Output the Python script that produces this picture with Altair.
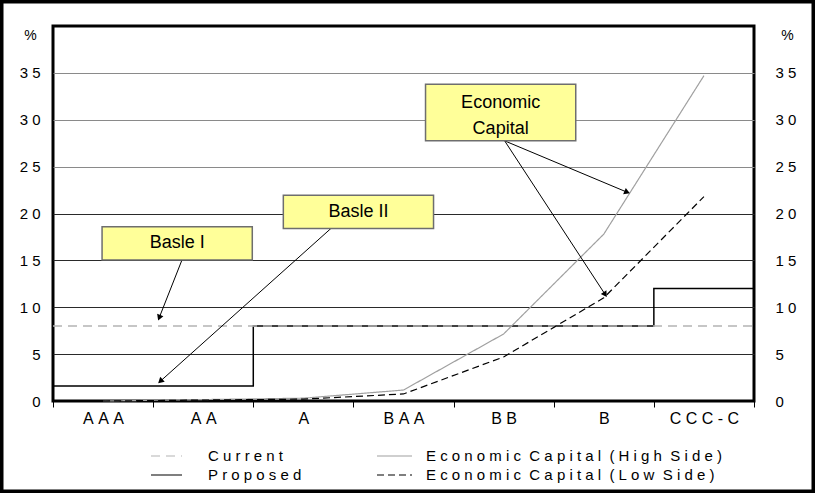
import json
import math

import altair as alt
import pandas as pd

# ---- chart values -------------------------------------------------------
ratings = ["AAA", "AA", "A", "BAA", "BB", "B", "CCC-C"]
current = [8, 8, 8, 8, 8, 8, 8]
proposed = [1.6, 1.6, 8, 8, 8, 8, 12]
econ_high = [0.0, 0.15, 0.3, 1.17, 7.15, 17.8, 34.7]
econ_low = [0.0, 0.1, 0.2, 0.75, 4.7, 11.0, 21.8]
pct_ticks = [0, 5, 10, 15, 20, 25, 30, 35]

series = ["Current", "Proposed", "Economic Capital (High Side)", "Economic Capital (Low Side)"]
series_colors = ["#b4b4b4", "#000000", "#a0a0a0", "#000000"]
series_dash = [[9, 6], [1, 0], [1, 0], [7, 4]]

# call-out boxes (x in rating slots, y in %)
box_text = ["Basle I", "Basle II", "Economic\nCapital"]
box_x0 = [0.49, 2.30, 3.72]
box_x1 = [1.99, 3.80, 5.22]
box_y0 = [15.05, 18.4, 27.75]
box_y1 = [18.6, 21.95, 33.8]

# pointer arrows from the boxes
arrow_x0 = [1.29, 2.78, 4.51, 4.51]
arrow_y0 = [15.1, 18.45, 27.75, 27.75]
arrow_x1 = [1.05, 1.05, 5.76, 5.53]
arrow_y1 = [8.6, 1.9, 22.15, 11.1]

# ---- layout --------------------------------------------------------------
W, H = 701, 375
X_MAX, Y_MAX = 7, 40
SX, SY = W / X_MAX, H / Y_MAX
FONT = "Liberation Sans"
NB = "\u00a0"
LINE_H = 26

# key below the plot: two columns, two rows (pixel offsets from plot origin)
KEY_SYM_X = [98, 98, 324, 324]
KEY_SYM_LEN = [31, 31, 35, 35]
KEY_TEXT_X = [155, 155, 373, 373]
KEY_ROW_Y = [430, 449, 430, 449]


def spaced(s):
    """Widely tracked text, as in the original axis/legend lettering."""
    return (NB * 2).join(NB.join(w) for w in s.split(" "))


labels = [spaced(s) for s in series]
lab = dict(zip(series, labels))

# ---- tables --------------------------------------------------------------
n = len(ratings)
proposed_df = pd.DataFrame({
    "x": list(range(n + 1)),
    "v": proposed + [proposed[-1]],
    "series": lab["Proposed"],
})
current_df = pd.DataFrame({
    "x": list(range(n + 1)),
    "v": current + [current[-1]],
    "series": lab["Current"],
})
econ_df = pd.concat([
    pd.DataFrame({"x": [i + 0.5 for i in range(n)], "v": econ_high,
                  "series": lab["Economic Capital (High Side)"]}),
    pd.DataFrame({"x": [i + 0.5 for i in range(n)], "v": econ_low,
                  "series": lab["Economic Capital (Low Side)"]}),
])

key_df = pd.DataFrame({
    "series": labels,
    "sx0": [p / SX for p in KEY_SYM_X],
    "sx1": [(p + l) / SX for p, l in zip(KEY_SYM_X, KEY_SYM_LEN)],
    "tx": [p / SX for p in KEY_TEXT_X],
    "ky": [Y_MAX - p / SY for p in KEY_ROW_Y],
})

box_df = pd.DataFrame({
    "x0": box_x0, "x1": box_x1, "y0": box_y0, "y1": box_y1, "text": box_text,
})
box_df["cx"] = (box_df.x0 + box_df.x1) / 2
# first text line sits above the box centre when the label wraps
box_df["ty"] = [
    (a + b) / 2 + (t.count("\n") * 9) / SY
    for a, b, t in zip(box_y0, box_y1, box_text)
]

HEAD = 45
head_h = math.sqrt(3) / 2 * math.sqrt(HEAD) / 2
rows = []
for xa, ya, xb, yb in zip(arrow_x0, arrow_y0, arrow_x1, arrow_y1):
    dxp = (xb - xa) * SX
    dyp = -(yb - ya) * SY
    length = math.hypot(dxp, dyp)
    ux, uy = dxp / length, dyp / length
    ang = math.degrees(math.atan2(dxp, -dyp)) % 360
    hx = xb - ux * head_h / SX
    hy = yb + uy * head_h / SY
    rows.append({"x0": xa, "y0": ya, "x1": hx, "y1": hy, "angle": ang})
arrow_df = pd.DataFrame(rows)

# ---- scales, axes -----------------------------------------------------------
x_scale = alt.Scale(domain=[0, X_MAX], nice=False, zero=False)
y_scale = alt.Scale(domain=[0, Y_MAX], nice=False, zero=False)

rating_labels = json.dumps([spaced(r) for r in ratings], ensure_ascii=False)
x_axis = alt.Axis(
    values=[i / 2 for i in range(2 * n + 1)],
    labelExpr=f"datum.value % 1 ? {rating_labels}[floor(datum.value)] : ''",
    tickOpacity={"condition": {"test": "datum.value % 1 === 0", "value": 1}, "value": 0},
    tickSize=6, tickColor="black", tickWidth=1,
    labelFont=FONT, labelFontSize=16, labelColor="black", labelPadding=3,
    labelAngle=0, labelOverlap=False, labelFlush=False, labelBound=False,
    domain=False, grid=False, title=None,
)

y_common = dict(
    values=pct_ticks, tickSize=0, domain=False,
    labelExpr="join(split(datum.label, ''), '" + NB + "')",
    labelFont=FONT, labelFontSize=15, labelColor="black",
    title="%", titleAngle=0, titleY=9, titleAlign="center", titleBaseline="middle",
    titleFont=FONT, titleFontSize=14, titleFontWeight="normal", titleColor="black",
)
y_left = alt.Axis(
    orient="left", labelPadding=13, titleX=-23,
    grid=True, gridWidth=1,
    gridColor={"condition": {"test": "datum.value >= 25", "value": "#8a8a8a"}, "value": "#2a2a2a"},
    gridOpacity={"condition": {"test": "datum.value > 0", "value": 1}, "value": 0},
    **y_common,
)
y_right = alt.Axis(orient="right", labelPadding=21, titleX=33, grid=False, **y_common)

color_enc = alt.Color("series:N", scale=alt.Scale(domain=labels, range=series_colors), legend=None)
dash_enc = alt.StrokeDash("series:N", scale=alt.Scale(domain=labels, range=series_dash), legend=None)

# ---- layers ---------------------------------------------------------------
proposed_line = alt.Chart(proposed_df).mark_line(interpolate="step-after", strokeWidth=1.5).encode(
    x=alt.X("x:Q", scale=x_scale, axis=x_axis),
    y=alt.Y("v:Q", scale=y_scale, axis=y_left),
    color=color_enc, strokeDash=dash_enc,
)
current_line = alt.Chart(current_df).mark_line(strokeWidth=1.3).encode(
    x=alt.X("x:Q", scale=x_scale, axis=x_axis),
    y=alt.Y("v:Q", scale=y_scale, axis=None),
    color=color_enc, strokeDash=dash_enc,
)
econ_lines = alt.Chart(econ_df).mark_line(strokeWidth=1.2).encode(
    x=alt.X("x:Q", scale=x_scale, axis=x_axis),
    y=alt.Y("v:Q", scale=y_scale, axis=y_right),
    color=color_enc, strokeDash=dash_enc,
)

key_lines = alt.Chart(key_df).mark_rule(strokeWidth=1.2).encode(
    x=alt.X("sx0:Q", scale=x_scale, axis=x_axis),
    x2="sx1:Q",
    y=alt.Y("ky:Q", scale=y_scale, axis=None),
    color=color_enc, strokeDash=dash_enc,
)
key_text = alt.Chart(key_df).mark_text(
    font=FONT, fontSize=15, color="black", align="left", baseline="middle",
).encode(
    x=alt.X("tx:Q", scale=x_scale, axis=x_axis),
    y=alt.Y("ky:Q", scale=y_scale, axis=None),
    text="series:N",
)

arrow_lines = alt.Chart(arrow_df).mark_rule(color="black", strokeWidth=1).encode(
    x=alt.X("x0:Q", scale=x_scale, axis=x_axis),
    y=alt.Y("y0:Q", scale=y_scale, axis=None),
    x2="x1:Q", y2="y1:Q",
)
arrow_heads = alt.Chart(arrow_df).mark_point(
    shape="triangle-up", filled=True, size=HEAD, color="black", opacity=1
).encode(
    x=alt.X("x1:Q", scale=x_scale, axis=x_axis),
    y=alt.Y("y1:Q", scale=y_scale, axis=None),
    angle=alt.Angle("angle:Q", scale=None),
)

boxes = alt.Chart(box_df).mark_rect(fill="#ffff99", stroke="#6e6e6e", strokeWidth=1.5).encode(
    x=alt.X("x0:Q", scale=x_scale, axis=x_axis),
    x2="x1:Q",
    y=alt.Y("y0:Q", scale=y_scale, axis=None),
    y2="y1:Q",
)
box_labels = alt.Chart(box_df).mark_text(
    font=FONT, fontSize=18, color="black", lineBreak="\n", lineHeight=LINE_H,
    align="center", baseline="middle",
).encode(
    x=alt.X("cx:Q", scale=x_scale, axis=x_axis),
    y=alt.Y("ty:Q", scale=y_scale, axis=None),
    text="text:N",
)

# thick border round the whole figure
frame = alt.Chart(pd.DataFrame({"k": [0]})).mark_rect(
    stroke="black", strokeWidth=3.5, fill="white", fillOpacity=0
).encode(
    x=alt.value(-51.25), x2=alt.value(760.25),
    y=alt.value(-24.25), y2=alt.value(465.25),
)

chart = alt.layer(
    proposed_line, current_line, econ_lines,
    arrow_lines, arrow_heads, boxes, box_labels,
    key_lines, key_text, frame,
).resolve_axis(y="independent").properties(
    width=W, height=H,
    padding={"left": 53, "top": 26, "right": 61, "bottom": 92},
    autosize=alt.AutoSizeParams(type="none"),
    background="white",
).configure_view(stroke="black", strokeWidth=3)

chart.save("out.html", embed_options={"renderer": "svg", "actions": False})
